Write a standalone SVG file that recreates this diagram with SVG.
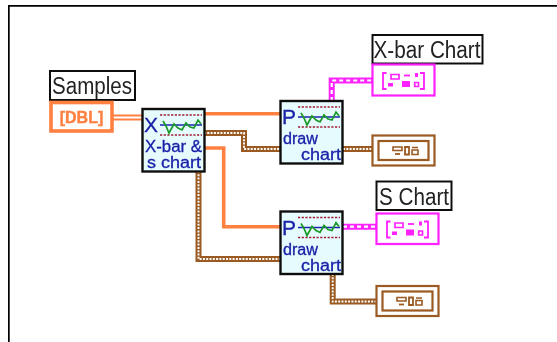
<svg xmlns="http://www.w3.org/2000/svg" width="557" height="342" viewBox="0 0 557 342">
<style>
.lbl{font-family:"Liberation Sans",Arial,sans-serif;font-size:23px;fill:#222}
.lblbox{fill:#fff;stroke:#111;stroke-width:2}
.node{fill:#e6fbfd;stroke:#111;stroke-width:2.400}
.ntx{font-family:"Liberation Sans",Arial,sans-serif;font-size:16px;fill:#1a22a8;stroke:#1a22a8;stroke-width:.3}
.big{font-size:21px}
.w{fill:none;stroke-linejoin:miter}
.or{stroke:#ff8040;stroke-width:3.6}
.br{stroke:#9a5a22;stroke-width:6}
.brd{stroke:#fff;stroke-width:1.900;stroke-dasharray:2 1.300}
.pk{stroke:#ff20ff;stroke-width:6}
.pkd{stroke:#fff;stroke-width:2.200;stroke-dasharray:4 3}
.pb{fill:#fff;stroke:#ff20ff;stroke-width:2.200}
.bb{fill:#fff;stroke:#9a5a22;stroke-width:2.200}
</style>
<defs>
<filter id="soft" x="0" y="0" width="100%" height="100%"><feGaussianBlur stdDeviation="0.3"/></filter>
<g id="icon">
<path d="M0 0H42M0 20H42" fill="none" stroke="#a01c30" stroke-width="1.700" stroke-dasharray="2.200 1.500"/>
<path d="M0 10H42" fill="none" stroke="#1a22b0" stroke-width="1.700"/>
<path d="M3 6L6 11L9 18L14 9L18 13L22 15L26 8L30 12L34 13L38 5L41 9" fill="none" stroke="#1c9a28" stroke-width="1.700"/>
</g>
<g id="ctl">
<path d="M5.500 3H2V19H5.500M39 3H43V19H39" fill="none" stroke="#ff20ff" stroke-width="1.800"/>
<path d="M10 4.500H18V9H10z" fill="none" stroke="#ff20ff" stroke-width="1.700"/>
<path d="M7 13H12V16.500H7zM21 11H29V17H21z" fill="#ff20ff"/>
<path d="M23 5.500H29" stroke="#ff20ff" stroke-width="1.800"/>
<path d="M34 3H37V7H34z" fill="#ff20ff"/>
<path d="M33.700 12.500H37.500V16.500H33.700z" fill="none" stroke="#ff20ff" stroke-width="1.700"/>
</g>
<g id="ind">
<path d="M0 0H9V3.500H0z" fill="none" stroke="#9a5a22" stroke-width="1.600"/>
<path d="M2 7H7" stroke="#9a5a22" stroke-width="1.800"/>
<path d="M12 0H16V7.500H12z" fill="none" stroke="#9a5a22" stroke-width="1.800"/>
<path d="M19 0.500H25M19 3H25V7.500H19z" fill="none" stroke="#9a5a22" stroke-width="1.600"/>
</g>
</defs>
<rect width="557" height="342" fill="#fff"/>
<g filter="url(#soft)">
<path id="frame" d="M8.500 342V5.500H557" fill="none" stroke="#000" stroke-width="2.400"/>
<g id="connectors">
<path class="w" d="M113 115.500H142M113 119.500H142" stroke="#ff8040" stroke-width="1.800"/>
<path class="w or" d="M204 113.800H280"/>
<path class="w or" d="M204 148H223.700V226.700H280"/>
<path class="w br" d="M204 133H244V149H280"/>
<path class="w brd" d="M204 133H244V149H280"/>
<path class="w br" d="M198.500 171V259H280"/>
<path class="w brd" d="M198.500 171V259H280"/>
<path class="w pk" d="M331.700 101V80.500H372"/>
<path class="w pkd" d="M331.700 101V80.500H372"/>
<path class="w br" d="M343 149H372"/>
<path class="w brd" d="M343 149H372"/>
<path class="w pk" d="M343 226.700H376"/>
<path class="w pkd" d="M343 226.700H376"/>
<path class="w br" d="M332.700 274V301.500H376"/>
<path class="w brd" d="M332.700 274V301.500H376"/>
</g>
<g id="samples-label">
<rect class="lblbox" x="50" y="71" width="85" height="29"/>
<text class="lbl" x="52" y="94" textLength="80" lengthAdjust="spacingAndGlyphs">Samples</text>
</g>
<g id="samples-control">
<rect x="51" y="102.500" width="61" height="28.500" fill="#fff" stroke="#ff8040" stroke-width="3.600"/>
<text x="81.500" y="122.500" text-anchor="middle" font-family="'Liberation Sans',Arial,sans-serif" font-weight="700" font-size="16" fill="#ff8040" stroke="#ff8040" stroke-width=".4">[DBL]</text>
</g>
<g id="xbar-s-node">
<rect class="node" x="142.500" y="109" width="62" height="62.500"/>
<use href="#icon" x="160" y="115"/>
<text class="ntx big" x="144" y="132">X</text>
<text class="ntx" x="145" y="152" textLength="57" lengthAdjust="spacingAndGlyphs">X-bar &amp;</text>
<text class="ntx" x="147" y="168" textLength="54" lengthAdjust="spacingAndGlyphs">s chart</text>
</g>
<g id="draw-chart-1">
<rect class="node" x="280.500" y="101" width="62" height="62.500"/>
<use href="#icon" x="298" y="107"/>
<text class="ntx big" x="282" y="124">P</text>
<text class="ntx" x="283" y="144" textLength="35" lengthAdjust="spacingAndGlyphs">draw</text>
<text class="ntx" x="301" y="160" textLength="40" lengthAdjust="spacingAndGlyphs">chart</text>
</g>
<g id="draw-chart-2">
<rect class="node" x="280.500" y="211.500" width="62" height="62.500"/>
<use href="#icon" x="298" y="217.500"/>
<text class="ntx big" x="282" y="234.500">P</text>
<text class="ntx" x="283" y="254.500" textLength="35" lengthAdjust="spacingAndGlyphs">draw</text>
<text class="ntx" x="301" y="270.500" textLength="40" lengthAdjust="spacingAndGlyphs">chart</text>
</g>
<g id="xbar-chart-label">
<rect class="lblbox" x="372.500" y="35" width="110" height="28.500"/>
<text class="lbl" x="373.500" y="58" textLength="107" lengthAdjust="spacingAndGlyphs">X-bar Chart</text>
</g>
<g id="xbar-chart-graph">
<rect class="pb" x="372.500" y="64.500" width="62" height="31"/>
<use href="#ctl" x="381" y="70"/>
</g>
<g id="xbar-chart-indicator">
<rect class="bb" x="372.500" y="135.500" width="62" height="30"/>
<rect class="bb" x="378.500" y="141" width="50" height="19"/>
<use href="#ind" x="393" y="147"/>
</g>
<g id="s-chart-label">
<rect class="lblbox" x="376.500" y="181.500" width="75" height="28.500"/>
<text class="lbl" x="379" y="204.500" textLength="70" lengthAdjust="spacingAndGlyphs">S Chart</text>
</g>
<g id="s-chart-graph">
<rect class="pb" x="376.500" y="213.500" width="62" height="30.500"/>
<use href="#ctl" x="385" y="218.500"/>
</g>
<g id="s-chart-indicator">
<rect class="bb" x="376.500" y="286" width="62" height="30"/>
<rect class="bb" x="382.500" y="291.500" width="50" height="19"/>
<use href="#ind" x="397" y="297.500"/>
</g>
</g>
</svg>
